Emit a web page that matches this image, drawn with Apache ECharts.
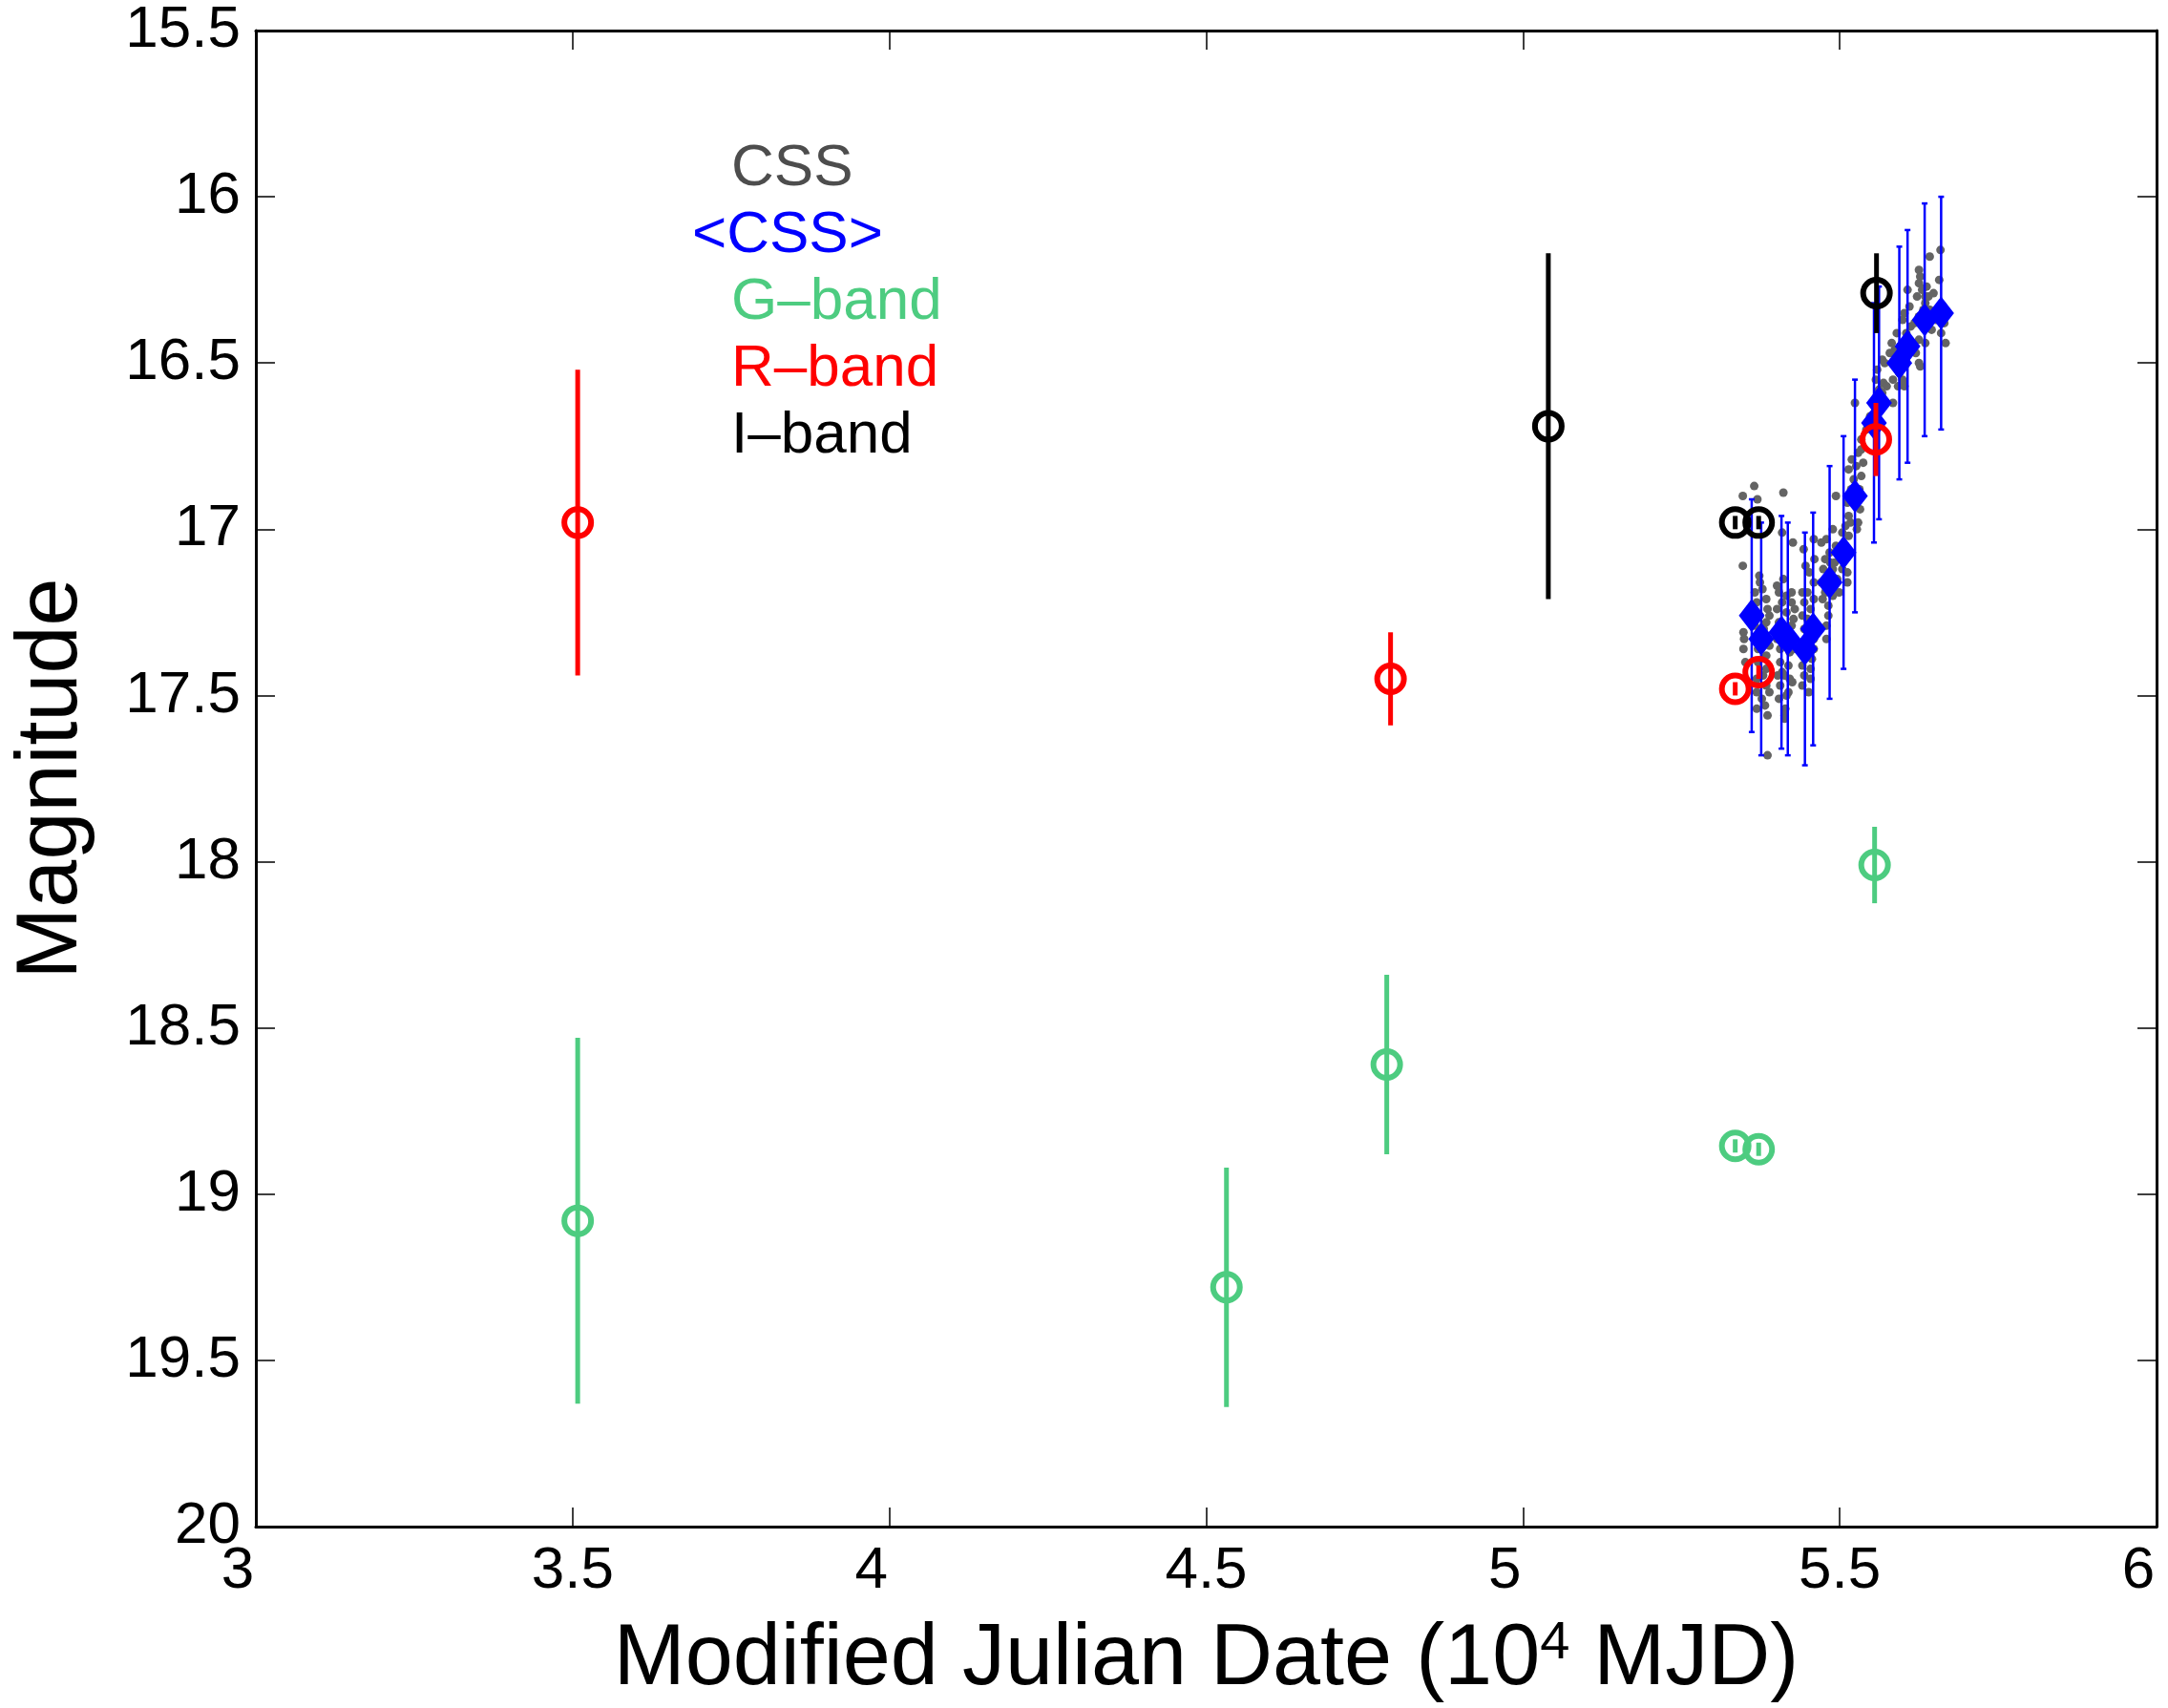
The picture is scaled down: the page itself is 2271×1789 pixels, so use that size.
<!DOCTYPE html>
<html>
<head>
<meta charset="utf-8">
<script src="https://cdn.jsdelivr.net/npm/echarts@6/dist/echarts.min.js"></script>
<style>
  html, body { margin: 0; padding: 0; background: #fff; }
  #chart { width: 2271px; height: 1789px; }
</style>
</head>
<body>
<div id="chart"></div>
<script>
// ---------------- DATA (MJD in 10^4 days, magnitudes) ----------------
// CSS individual observations [mjd, mag]
const cssObs = [
  [5.347,16.90],[5.347,17.11],[5.348,17.31],[5.349,17.33],[5.348,17.36],[5.351,17.40],
  [5.365,16.87],[5.370,16.91],[5.373,17.14],[5.374,17.16],[5.384,17.21],[5.366,17.19],
  [5.369,17.22],[5.386,17.24],[5.374,17.26],[5.384,17.28],[5.384,17.32],[5.371,17.36],
  [5.384,17.38],[5.371,17.40],[5.384,17.42],[5.369,17.45],[5.384,17.47],[5.369,17.49],
  [5.389,17.49],[5.369,17.54],[5.386,17.56],[5.386,17.68],
  [5.378,17.18],[5.380,17.30],[5.376,17.34],[5.379,17.44],[5.377,17.51],[5.389,17.35],
  [5.389,17.26],[5.366,17.29],[5.382,17.53],
  [5.411,16.89],[5.409,17.01],[5.426,17.04],[5.401,17.17],[5.411,17.15],[5.404,17.19],
  [5.424,17.19],[5.409,17.22],[5.424,17.22],[5.401,17.24],[5.416,17.25],[5.429,17.24],
  [5.404,17.28],[5.424,17.29],[5.409,17.32],[5.426,17.33],[5.406,17.36],[5.421,17.37],
  [5.406,17.40],[5.419,17.41],[5.409,17.43],[5.421,17.45],[5.406,17.47],[5.419,17.49],
  [5.404,17.51],[5.414,17.54],[5.413,17.56],[5.413,17.57],
  [5.416,17.20],[5.414,17.30],[5.417,17.35],[5.413,17.44],[5.427,17.27],[5.428,17.36],
  [5.401,17.33],[5.402,17.44],[5.416,17.50],[5.425,17.46],
  [5.443,17.06],[5.459,17.03],[5.460,17.09],[5.441,17.19],[5.459,17.16],[5.444,17.22],
  [5.459,17.21],[5.441,17.26],[5.454,17.24],[5.444,17.30],[5.459,17.29],[5.441,17.34],
  [5.459,17.33],[5.446,17.38],[5.459,17.36],[5.441,17.41],[5.454,17.42],[5.444,17.44],
  [5.454,17.45],[5.441,17.47],[5.451,17.49],[5.471,17.04],[5.471,17.16],
  [5.449,17.27],[5.450,17.32],[5.448,17.36],[5.456,17.39],[5.449,17.19],[5.452,17.13],
  [5.446,17.11],
  [5.489,17.00],[5.479,17.03],[5.484,17.07],[5.477,17.09],[5.494,17.05],[5.474,17.12],
  [5.489,17.12],[5.479,17.15],[5.477,17.19],[5.499,17.19],[5.489,17.20],[5.482,17.23],
  [5.482,17.26],[5.479,17.29],[5.479,17.33],
  [5.485,17.10],[5.483,17.17],[5.473,17.21],[5.492,17.10],[5.496,17.15],
  [5.494,16.90],[5.512,16.92],[5.514,16.96],[5.509,16.99],[5.517,16.98],[5.504,17.01],
  [5.514,17.02],[5.512,17.08],[5.512,17.13],[5.512,17.16],[5.504,17.12],
  [5.519,16.79],[5.514,16.82],[5.529,16.77],[5.534,16.76],[5.522,16.85],[5.534,16.84],
  [5.532,16.94],[5.529,16.98],[5.527,17.00],
  [5.508,17.05],[5.518,16.88],[5.526,16.81],[5.531,16.88],[5.537,16.80],
  [5.524,16.62],[5.534,16.73],[5.559,16.52],[5.567,16.49],[5.557,16.55],[5.569,16.56],
  [5.567,16.59],[5.574,16.57],[5.584,16.62],[5.554,16.70],[5.542,16.70],
  [5.548,16.66],[5.552,16.62],[5.562,16.58],[5.571,16.50],
  [5.582,16.44],[5.587,16.46],[5.579,16.47],[5.589,16.51],[5.594,16.53],[5.599,16.55],
  [5.584,16.55],[5.592,16.57],[5.602,16.57],[5.602,16.35],[5.607,16.28],[5.599,16.37],
  [5.605,16.41],[5.612,16.39],[5.615,16.44],[5.625,16.43],[5.620,16.47],[5.625,16.50],
  [5.627,16.51],[5.625,16.22],[5.627,16.24],[5.625,16.26],[5.635,16.30],[5.632,16.34],
  [5.625,16.36],
  [5.595,16.45],[5.606,16.48],[5.610,16.33],[5.618,16.38],[5.622,16.30],[5.630,16.28],
  [5.590,16.41],
  [5.659,16.16],[5.642,16.18],[5.637,16.27],[5.657,16.25],[5.640,16.30],[5.635,16.32],
  [5.642,16.34],[5.665,16.38],[5.660,16.41],[5.635,16.44],[5.600,16.56],
  [5.648,16.29],[5.652,16.37],[5.663,16.33],[5.645,16.40],[5.667,16.44]
];

// <CSS> seasonal means
const meanMjd = [5.361, 5.376, 5.408, 5.418, 5.445, 5.458, 5.484, 5.506, 5.524, 5.554, 5.562, 5.594, 5.607, 5.634, 5.660];
const meanMag = [17.26, 17.33, 17.31, 17.33, 17.36, 17.30, 17.16, 17.07, 16.90, 16.68, 16.62, 16.50, 16.45, 16.37, 16.35];
const meanErr = [0.35, 0.35, 0.35, 0.35, 0.35, 0.35, 0.35, 0.35, 0.35, 0.36, 0.35, 0.35, 0.35, 0.35, 0.35];

// G band
const gMjd = [3.508, 4.532, 4.785, 5.335, 5.372, 5.555];
const gMag = [19.08, 19.28, 18.61, 18.855, 18.865, 18.01];
const gErr = [0.55, 0.36, 0.27, 0.02, 0.02, 0.115];

// R band
const rMjd = [3.508, 4.791, 5.335, 5.372, 5.557];
const rMag = [16.98, 17.45, 17.48, 17.43, 16.73];
const rErr = [0.46, 0.14, 0.02, 0.02, 0.11];

// I band
const iMjd = [5.040, 5.335, 5.372, 5.558];
const iMag = [16.69, 16.98, 16.98, 16.29];
const iErr = [0.52, 0.02, 0.02, 0.12];

const legendNames = ['CSS', '<CSS>', 'G\u2013band', 'R\u2013band', 'I\u2013band'];
const xTicks = [3, 3.5, 4, 4.5, 5, 5.5, 6];
const yTicks = [15.5, 16, 16.5, 17, 17.5, 18, 18.5, 19, 19.5, 20];

// ---------------- STYLE ----------------
const FONT = '"Liberation Sans", Arial, Helvetica, sans-serif';
const C_CSS = '#646464', C_CSS_TXT = '#4d4d4d', C_MEAN = '#0000ff',
      C_G = '#4dcc80', C_R = '#ff0000', C_I = '#000000';

function zip3(a, b, c) { return a.map((v, i) => [v, b[i], c[i]]); }

function errRender(color, width, cap) {
  return function (params, api) {
    const x = api.value(0), y = api.value(1), e = api.value(2);
    const p1 = api.coord([x, y - e]);
    const p2 = api.coord([x, y + e]);
    const children = [{
      type: 'line',
      shape: { x1: p1[0], y1: p1[1], x2: p2[0], y2: p2[1] },
      style: { stroke: color, lineWidth: width }
    }];
    if (cap) {
      children.push({ type: 'line', shape: { x1: p1[0] - cap, y1: p1[1], x2: p1[0] + cap, y2: p1[1] },
        style: { stroke: color, lineWidth: width } });
      children.push({ type: 'line', shape: { x1: p2[0] - cap, y1: p2[1], x2: p2[0] + cap, y2: p2[1] },
        style: { stroke: color, lineWidth: width } });
    }
    return { type: 'group', children: children };
  };
}

function bandSeries(name, color, mjd, mag, err, z) {
  return [
    {
      type: 'custom', name: name + '_err', z: z, silent: true,
      renderItem: errRender(color, 5, 0),
      data: zip3(mjd, mag, err), encode: { x: 0, y: 1 }
    },
    {
      type: 'scatter', name: name, z: z + 1, silent: true,
      symbol: 'circle', symbolSize: 28,
      itemStyle: { color: 'rgba(0,0,0,0)', borderColor: color, borderWidth: 6, opacity: 1 },
      data: mjd.map((v, i) => [v, mag[i]])
    }
  ];
}

const axisCommon = {
  axisLine: { show: true, onZero: false, lineStyle: { color: '#000', width: 3 } },
  axisTick: { show: true, inside: true, length: 20, lineStyle: { color: '#000', width: 1.5 } },
  splitLine: { show: false }
};

const chart = echarts.init(document.getElementById('chart'), null, { renderer: 'canvas' });

const option = {
  backgroundColor: '#ffffff',
  animation: false,
  textStyle: { fontFamily: FONT },
  grid: { left: 268, right: 12, top: 32, bottom: 187, containLabel: false },
  legend: {
    orient: 'vertical', left: 715, top: 137,
    icon: 'none', itemWidth: 0, itemHeight: 10, itemGap: 0,
    selectedMode: false,
    textStyle: { fontSize: 62, fontFamily: FONT, lineHeight: 70,
      rich: {
        p: { fontSize: 62, fontFamily: FONT, lineHeight: 70, padding: [0, 0, 0, 41] },
        q: { fontSize: 62, fontFamily: FONT, lineHeight: 70 }
      }
    },
    formatter: function (n) { return n === '<CSS>' ? '{q|' + n + '}' : '{p|' + n + '}'; },
    data: [
      { name: legendNames[0], textStyle: { color: C_CSS_TXT } },
      { name: legendNames[1], textStyle: { color: C_MEAN } },
      { name: legendNames[2], textStyle: { color: C_G } },
      { name: legendNames[3], textStyle: { color: C_R } },
      { name: legendNames[4], textStyle: { color: C_I } }
    ]
  },
  xAxis: [
    Object.assign({
      type: 'value', position: 'bottom', min: xTicks[0], max: xTicks[xTicks.length - 1], interval: 0.5,
      name: 'Modified Julian Date (10{sup|4} MJD)', nameLocation: 'middle', nameGap: 95,
      nameTextStyle: { fontSize: 90, fontFamily: FONT, color: '#000',
        rich: { sup: { fontSize: 56, fontFamily: FONT, color: '#000', verticalAlign: 'top' } } },
      axisLabel: {
        show: true, margin: 16, color: '#000', fontSize: 62, fontFamily: FONT,
        formatter: function (v) { return Number.isInteger(v) ? '{i|' + v + '}' : String(v); },
        rich: { i: { fontSize: 62, fontFamily: FONT, color: '#000', padding: [0, 38, 0, 0] } }
      }
    }, axisCommon),
    Object.assign({
      type: 'value', position: 'top', min: xTicks[0], max: xTicks[xTicks.length - 1], interval: 0.5,
      axisLabel: { show: false }
    }, axisCommon)
  ],
  yAxis: [
    Object.assign({
      type: 'value', position: 'left', inverse: true, min: yTicks[0], max: yTicks[yTicks.length - 1], interval: 0.5,
      name: 'Magnitude', nameLocation: 'middle', nameGap: 168,
      nameTextStyle: { fontSize: 90, fontFamily: FONT, color: '#000' },
      axisLabel: { show: true, margin: 16, color: '#000', fontSize: 62, fontFamily: FONT }
    }, axisCommon),
    Object.assign({
      type: 'value', position: 'right', inverse: true, min: yTicks[0], max: yTicks[yTicks.length - 1], interval: 0.5,
      axisLabel: { show: false }
    }, axisCommon)
  ],
  series: [
    {
      type: 'scatter', name: legendNames[0], z: 1, silent: true,
      symbol: 'circle', symbolSize: 9,
      itemStyle: { color: C_CSS, opacity: 1 },
      data: cssObs
    },
    {
      type: 'custom', name: 'mean_err', z: 2, silent: true,
      renderItem: errRender(C_MEAN, 2.5, 3),
      data: zip3(meanMjd, meanMag, meanErr), encode: { x: 0, y: 1 }
    },
    {
      type: 'scatter', name: legendNames[1], z: 3, silent: true,
      symbol: 'diamond', symbolSize: [27, 35],
      itemStyle: { color: C_MEAN, opacity: 1 },
      data: meanMjd.map((v, i) => [v, meanMag[i]])
    }
  ]
  .concat(bandSeries(legendNames[2], C_G, gMjd, gMag, gErr, 4))
  .concat(bandSeries(legendNames[3], C_R, rMjd, rMag, rErr, 6))
  .concat(bandSeries(legendNames[4], C_I, iMjd, iMag, iErr, 8))
};

chart.setOption(option);
</script>
</body>
</html>
